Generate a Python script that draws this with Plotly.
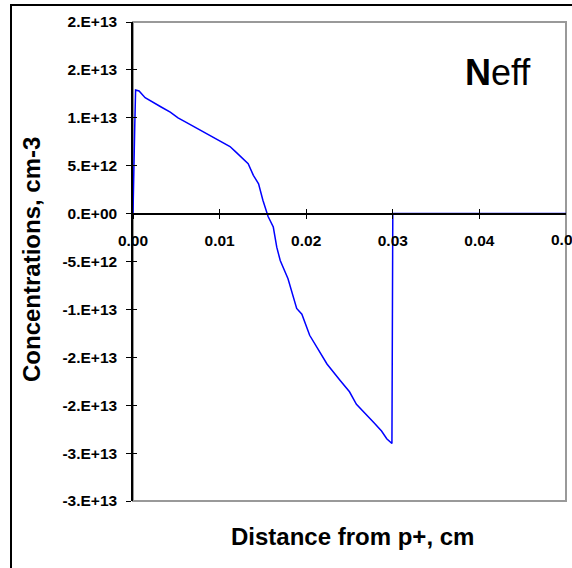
import plotly.graph_objects as go

# Data
distance_cm = [0.0, 0.0001, 0.0002, 0.0003, 0.0007, 0.0014, 0.0023, 0.0033, 0.0043, 0.0052,
               0.0062, 0.0072, 0.0081, 0.0091, 0.0100, 0.0106, 0.0112, 0.0118, 0.0124, 0.0133,
               0.0139, 0.0145, 0.0150, 0.0156, 0.0162, 0.0166, 0.0170, 0.0174, 0.0179, 0.0189,
               0.0195, 0.0204, 0.0214, 0.0224, 0.0239, 0.0250, 0.0258, 0.0268, 0.0278, 0.0287,
               0.0293, 0.0299, 0.02995, 0.0300, 0.0400, 0.0500]
neff_e12 = [0.0, 7.0, 9.0, 12.9, 12.8, 12.1, 11.6, 11.1, 10.6, 10.0,
            9.5, 9.0, 8.5, 8.0, 7.6, 7.3, 7.0, 6.5, 6.0, 5.2,
            4.0, 3.1, 1.4, -0.3, -1.4, -3.5, -4.9, -5.8, -6.8, -9.9,
            -10.5, -12.7, -14.2, -15.7, -17.4, -18.6, -19.9, -20.8, -21.8, -22.7,
            -23.5, -24.0, -8.5, 0.0, 0.0, 0.0]
neff = [v * 1e12 for v in neff_e12]

y_tickvals = [2e13, 1.5e13, 1e13, 5e12, 0, -5e12, -1e13, -1.5e13, -2e13, -2.5e13, -3e13]
y_ticktext = ["2.E+13", "2.E+13", "1.E+13", "5.E+12", "0.E+00", "-5.E+12",
              "-1.E+13", "-2.E+13", "-2.E+13", "-3.E+13", "-3.E+13"]
x_tickvals = [0.0, 0.01, 0.02, 0.03, 0.04, 0.05]
x_ticktext = ["0.00", "0.01", "0.02", "0.03", "0.04", "0.05"]

FONT = "Liberation Sans, Arial, sans-serif"
W, H = 572, 568
L, R, T, B = 133, 6, 22, 67
pw, ph = W - L - R, H - T - B

def px_x(p):
    return (p - L) / pw

def px_y(p):
    return (H - B - p) / ph

fig = go.Figure()
fig.add_trace(go.Scatter(x=distance_cm, y=neff, mode="lines",
                         line=dict(color="#0000FF", width=1.5),
                         xaxis="x", yaxis="y", showlegend=False, hoverinfo="x+y"))

zero_pos = 3 / 5  # y=0 at 0.6 of the domain for range [-3e13, 2e13]
tickfont = dict(family=FONT, size=15.5, color="black", weight="bold")

fig.update_layout(
    width=W, height=H,
    margin=dict(l=L, r=R, t=T, b=B, pad=0),
    paper_bgcolor="white", plot_bgcolor="white",
    font=dict(family=FONT, size=15.5, color="black"),
    xaxis=dict(range=[0, 0.05], tickvals=x_tickvals[:-1], ticktext=x_ticktext[:-1],
               anchor="free", position=zero_pos,
               showline=True, linecolor="black", linewidth=1.5,
               ticks="outside", ticklen=5, tickwidth=1.2, tickcolor="black",
               showgrid=False, zeroline=False,
               tickfont=tickfont, ticklabelstandoff=8),
    xaxis2=dict(range=[0, 0.05], tickvals=x_tickvals, overlaying="x",
                anchor="free", position=zero_pos, showticklabels=False,
                showline=False, ticks="inside", ticklen=5, tickwidth=1.2,
                tickcolor="black", showgrid=False, zeroline=False),
    yaxis=dict(range=[-3e13, 2e13], tickvals=y_tickvals, ticktext=y_ticktext,
               showline=True, linecolor="black", linewidth=1.5,
               ticks="outside", ticklen=5, tickwidth=1.2, tickcolor="black",
               showgrid=False, zeroline=False,
               tickfont=tickfont, ticklabelstandoff=6),
    yaxis2=dict(range=[-3e13, 2e13], tickvals=y_tickvals, overlaying="y",
                side="left", anchor="x", showticklabels=False, showline=False,
                ticks="inside", ticklen=4, tickwidth=1.2, tickcolor="black",
                showgrid=False, zeroline=False),
    shapes=[
        dict(type="rect", xref="paper", yref="paper", x0=0, x1=1, y0=0, y1=1,
             line=dict(color="#999999", width=2), layer="below"),
        dict(type="rect", xref="paper", yref="paper",
             x0=px_x(11), x1=px_x(590), y0=px_y(590), y1=px_y(5),
             line=dict(color="black", width=2), layer="below"),
    ],
    annotations=[
        # last x tick label, which runs off the right edge as in the reference
        dict(text=x_ticktext[-1], xref="x", yref="paper",
             x=x_tickvals[-1], y=px_y(239), xanchor="center", yanchor="middle",
             showarrow=False, font=tickfont),
        dict(text="<b>Distance from p+, cm</b>", xref="paper", yref="paper",
             x=px_x(352), y=px_y(536), xanchor="center", yanchor="middle",
             showarrow=False, font=dict(family=FONT, size=24, color="black")),
        dict(text="<b>Concentrations, cm-3</b>", xref="paper", yref="paper",
             x=px_x(31), y=px_y(260), xanchor="center", yanchor="middle",
             textangle=-90, showarrow=False,
             font=dict(family=FONT, size=24, color="black")),
        dict(text="<b>N</b>eff", xref="paper", yref="paper",
             x=px_x(498), y=px_y(72), xanchor="center", yanchor="middle",
             showarrow=False, font=dict(family=FONT, size=36, color="black")),
    ],
)

# attach dummy invisible trace for overlay axes
fig.add_trace(go.Scatter(x=[None], y=[None], xaxis="x2", yaxis="y2",
                         showlegend=False, hoverinfo="skip"))

fig.write_html("out.html")
